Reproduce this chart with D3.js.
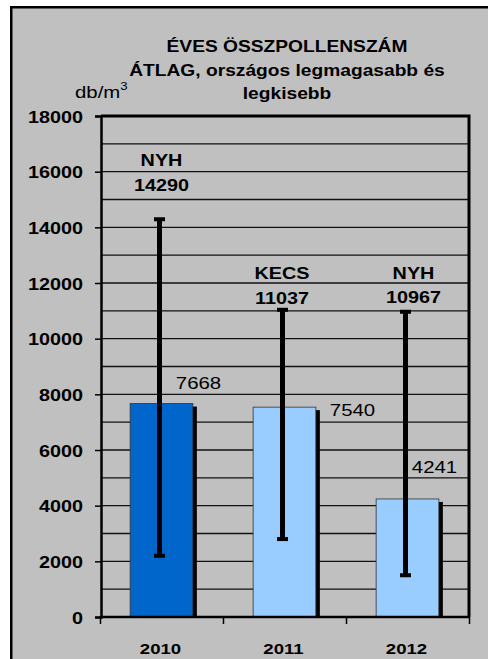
<!DOCTYPE html>
<html>
<head>
<meta charset="utf-8">
<script src="https://cdn.jsdelivr.net/npm/d3@7"></script>
<style>
  html, body { margin: 0; padding: 0; background: #fff; }
  svg { display: block; }
  text { font-family: "Liberation Sans", Arial, sans-serif; fill: #000; }
</style>
</head>
<body>
<div id="chart"></div>
<script>
// adatok
const years = ['2010', '2011', '2012'];
const means = [7668, 7540, 4241];
const maxima = [14290, 11037, 10967];
const minima = [2200, 2800, 1500];
const maxStations = ['NYH', 'KECS', 'NYH'];
const yTicks = [0, 2000, 4000, 6000, 8000, 10000, 12000, 14000, 16000, 18000];
const gridValues = d3.range(1000, 18000, 1000);
const titleLines = ['ÉVES ÖSSZPOLLENSZÁM', 'ÁTLAG, országos legmagasabb és', 'legkisebb'];

const W = 488, H = 659;
const plot = { left: 101, right: 469, top: 116, bottom: 617 };
const sx = 1.2; // a kép vízszintesen nyújtott
const barColors = ['#0066cc', '#99ccff', '#99ccff'];

// címkék kézi eltolásai (px)
const maxLabelDx = [0, -2.5, 6];
const maxLabelY = [[166, 191], [279, 304], [279, 303]];
const meanLabelDx = [37, 68, 27];
const meanLabelDy = [-15, 9, -26];

const svg = d3.select('#chart').append('svg')
  .attr('width', W)
  .attr('height', H);

// háttér + keret
svg.append('rect')
  .attr('x', 11.25).attr('y', 7.25)
  .attr('width', 600).attr('height', 700)
  .attr('fill', '#c0c0c0')
  .attr('stroke', '#000')
  .attr('stroke-width', 2.5);

const x = d3.scaleBand()
  .domain(years)
  .range([plot.left - 1, plot.right])
  .paddingInner(0)
  .paddingOuter(0);

const y = d3.scaleLinear()
  .domain([0, 18000])
  .range([plot.bottom, plot.top]);

function stretched(sel, px, py, size) {
  return sel.attr('transform', 'translate(' + px + ',' + py + ') scale(' + sx + ',1)')
    .style('font-size', size + 'px');
}

// rácsvonalak
svg.append('g')
  .selectAll('line')
  .data(gridValues)
  .join('line')
  .attr('x1', plot.left).attr('x2', plot.right)
  .attr('y1', d => y(d)).attr('y2', d => y(d))
  .attr('stroke', '#111')
  .attr('stroke-width', 1.4);

// felső és jobb keret
svg.append('path')
  .attr('d', 'M' + plot.left + ',' + y(18000) + 'H' + plot.right + 'V' + plot.bottom)
  .attr('fill', 'none')
  .attr('stroke', '#000')
  .attr('stroke-width', 3);

const barW = x.bandwidth() * 0.51;
const cx = d => x(d) + x.bandwidth() / 2;

// oszlopok árnyéka
svg.append('g')
  .selectAll('rect')
  .data(years)
  .join('rect')
  .attr('x', d => cx(d) - barW / 2 + 4)
  .attr('y', (d, i) => y(means[i]) + 3)
  .attr('width', barW)
  .attr('height', (d, i) => y(0) - y(means[i]) - 3)
  .attr('fill', '#000');

// oszlopok
svg.append('g')
  .selectAll('rect')
  .data(years)
  .join('rect')
  .attr('x', d => cx(d) - barW / 2)
  .attr('y', (d, i) => y(means[i]))
  .attr('width', barW)
  .attr('height', (d, i) => y(0) - y(means[i]))
  .attr('fill', (d, i) => barColors[i])
  .attr('stroke', '#333')
  .attr('stroke-width', 0.8);

// hibasávok (min-max)
const err = svg.append('g');
years.forEach(function (d, i) {
  const ex = cx(d) - 2;
  err.append('line')
    .attr('x1', ex).attr('x2', ex)
    .attr('y1', y(maxima[i])).attr('y2', y(minima[i]))
    .attr('stroke', '#000')
    .attr('stroke-width', 5);
  [maxima[i], minima[i]].forEach(function (v) {
    err.append('line')
      .attr('x1', ex - 5.5).attr('x2', ex + 5.5)
      .attr('y1', y(v)).attr('y2', y(v))
      .attr('stroke', '#000')
      .attr('stroke-width', 4);
  });
});

// y tengely
const axisY = svg.append('g')
  .attr('transform', 'translate(' + plot.left + ',0)')
  .call(d3.axisLeft(y).tickValues(yTicks).tickSize(6).tickFormat(d3.format('d')));
axisY.select('.domain').attr('stroke-width', 2.5);
axisY.selectAll('.tick line').attr('stroke-width', 1.5);
axisY.selectAll('.tick text').remove();
axisY.selectAll('.tick').append('text')
  .attr('text-anchor', 'end')
  .style('font-weight', 'bold')
  .each(function () { stretched(d3.select(this), -18, 6, 16.5); })
  .text(d => d);

// x tengely
svg.append('line')
  .attr('x1', plot.left - 1).attr('x2', plot.right)
  .attr('y1', plot.bottom).attr('y2', plot.bottom)
  .attr('stroke', '#000')
  .attr('stroke-width', 2.5);

svg.append('g')
  .selectAll('line')
  .data(years.map(d => x(d)).concat([x.range()[1]]))
  .join('line')
  .attr('x1', d => d + 0.5).attr('x2', d => d + 0.5)
  .attr('y1', plot.bottom).attr('y2', plot.bottom + 7)
  .attr('stroke', '#000')
  .attr('stroke-width', 1.5);

svg.append('g')
  .selectAll('text')
  .data(years)
  .join('text')
  .attr('text-anchor', 'middle')
  .style('font-weight', 'bold')
  .each(function (d) { stretched(d3.select(this), cx(d) - 1, 654, 15.5); })
  .text(d => d);

// maximum feliratok
years.forEach(function (d, i) {
  svg.append('text')
    .attr('text-anchor', 'middle')
    .style('font-weight', 'bold')
    .call(stretched, cx(d) + maxLabelDx[i], maxLabelY[i][0], 16.5)
    .text(maxStations[i]);
  svg.append('text')
    .attr('text-anchor', 'middle')
    .style('font-weight', 'bold')
    .call(stretched, cx(d) + maxLabelDx[i], maxLabelY[i][1], 16.5)
    .text(maxima[i]);
});

// átlag feliratok
years.forEach(function (d, i) {
  svg.append('text')
    .attr('text-anchor', 'middle')
    .call(stretched, cx(d) + meanLabelDx[i], y(means[i]) + meanLabelDy[i], 17)
    .text(means[i]);
});

// cím
titleLines.forEach(function (t, i) {
  svg.append('text')
    .attr('text-anchor', 'middle')
    .style('font-weight', 'bold')
    .call(stretched, 287, 52 + i * 23.5, 16)
    .text(t);
});

// mértékegység
const unit = svg.append('text')
  .call(stretched, 75, 98, 17);
unit.append('tspan').text('db/m');
unit.append('tspan')
  .attr('dy', -8)
  .style('font-size', '11px')
  .text('3');
</script>
</body>
</html>
